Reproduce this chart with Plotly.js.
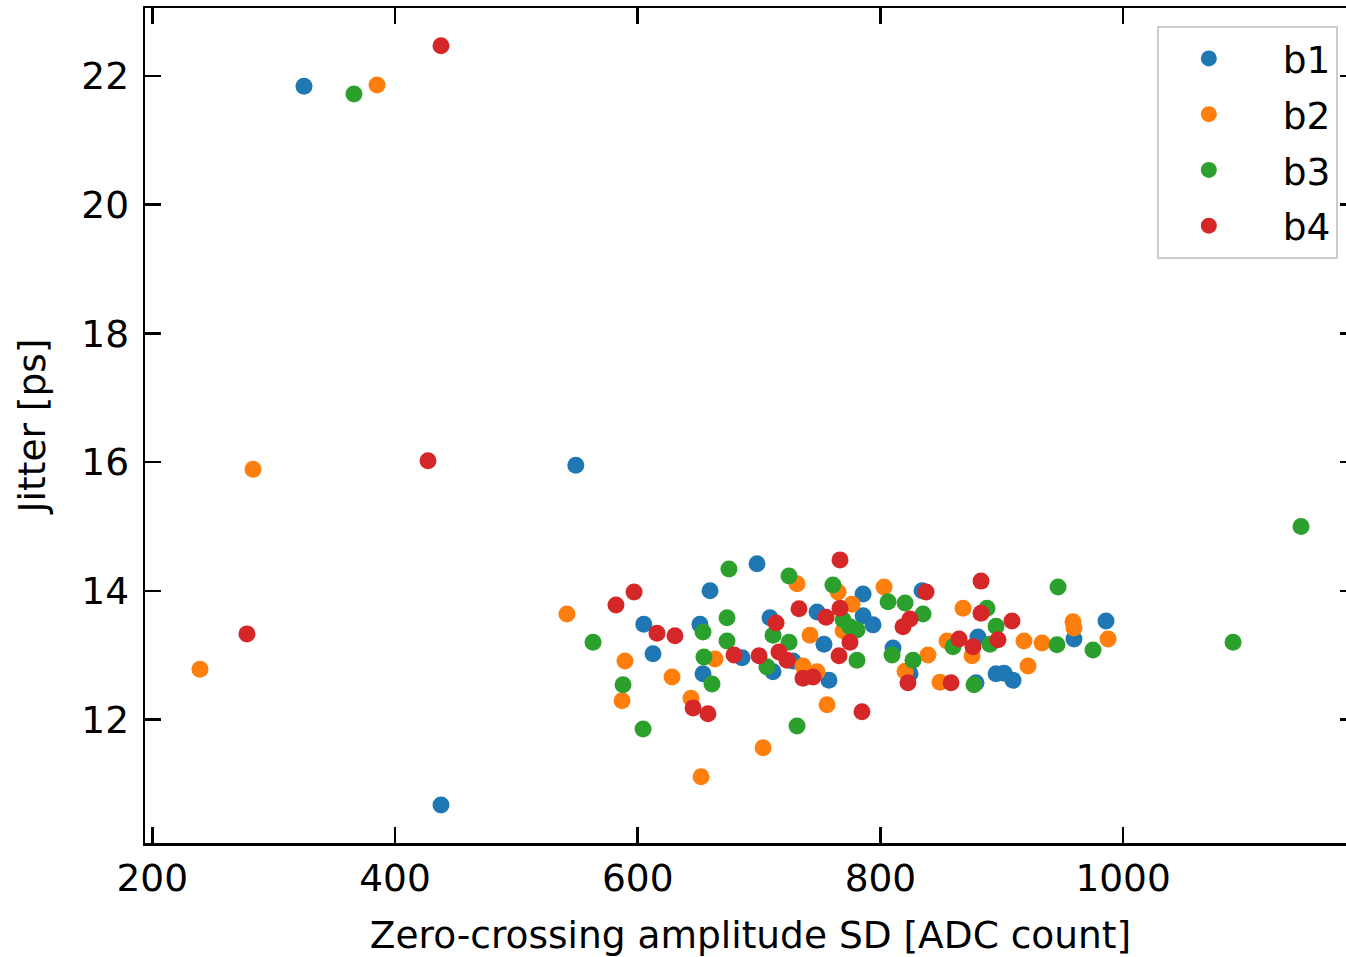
<!DOCTYPE html>
<html>
<head>
<meta charset="utf-8">
<script src="https://cdn.plot.ly/plotly-3.0.1.min.js"></script>
<style>
  html, body { margin: 0; padding: 0; overflow: hidden; background: #fff; }
  #chart { width: 1360px; height: 957px; }
</style>
</head>
<body>
<div id="chart"></div>
<script>
const seriesNames = ["b1", "b2", "b3", "b4"];
const seriesColors = ["#1f77b4", "#ff7f0e", "#2ca02c", "#d62728"];

const b1_x = [325, 549, 437.9, 605, 612.6, 659.6, 651.3, 653.8, 698.3, 686, 709, 711.5, 728, 747.8, 753.5, 757.6, 785.7, 785.7, 793.9, 810.4, 824.4, 834.3, 880.4, 895.3, 901.9, 909.3, 959.5, 985.9, 878.8];
const b1_y = [21.84, 15.95, 10.67, 13.48, 13.02, 14.00, 13.48, 12.71, 14.42, 12.96, 13.58, 12.74, 12.91, 13.67, 13.17, 12.61, 13.95, 13.61, 13.47, 13.11, 12.71, 14.00, 13.28, 12.71, 12.72, 12.61, 13.25, 13.53, 12.57];

const b2_x = [385.2, 283, 239.3, 541.7, 589.5, 587.1, 628.3, 643.9, 652.2, 663.7, 731.3, 703.3, 742, 736.2, 747.8, 756, 765.1, 776.6, 769.2, 803, 820.3, 839.2, 868.1, 854.9, 875.5, 849.1, 918.3, 933.2, 921.6, 958.7, 959.5, 987.6];
const b2_y = [21.86, 15.89, 12.78, 13.64, 12.91, 12.29, 12.66, 12.33, 11.11, 12.94, 14.11, 11.56, 13.31, 12.83, 12.74, 12.23, 13.98, 13.79, 13.38, 14.06, 12.75, 13.00, 13.73, 13.22, 12.99, 12.58, 13.22, 13.19, 12.83, 13.52, 13.42, 13.25];

const b3_x = [366.2, 1146.6, 1090.6, 563.2, 587.9, 604.4, 653.8, 654.6, 661.2, 675.2, 673.6, 673.6, 706.5, 711.5, 724.7, 724.7, 731.3, 760.9, 769.2, 774.9, 780.7, 780.7, 806.3, 809.6, 820.3, 826.9, 835.1, 859.8, 877.1, 887.8, 890.3, 895.3, 946.4, 945.5, 975.2];
const b3_y = [21.72, 15.00, 13.20, 13.20, 12.54, 11.85, 13.36, 12.97, 12.55, 14.34, 13.58, 13.22, 12.82, 13.31, 14.23, 13.20, 11.90, 14.09, 13.55, 13.44, 13.39, 12.92, 13.83, 13.00, 13.81, 12.92, 13.64, 13.13, 12.54, 13.73, 13.17, 13.45, 14.06, 13.16, 13.08];

const b4_x = [437.9, 427.2, 278, 582.1, 597, 615.9, 630.7, 645.6, 657.9, 679.4, 700, 714, 716.4, 723, 732.9, 736.2, 744.5, 755.2, 766.7, 766.7, 774.9, 765.9, 784.8, 818.6, 824.4, 822.7, 837.6, 858.2, 864.8, 876.3, 882.9, 882.9, 896.9, 908.4];
const b4_y = [22.47, 16.02, 13.33, 13.78, 13.98, 13.34, 13.30, 12.18, 12.09, 13.00, 12.99, 13.50, 13.05, 12.92, 13.72, 12.64, 12.66, 13.59, 14.48, 13.73, 13.20, 12.99, 12.12, 13.44, 13.56, 12.57, 13.98, 12.57, 13.25, 13.13, 14.15, 13.65, 13.24, 13.53];

const xTicks = [200, 400, 600, 800, 1000];
const yTicks = [12, 14, 16, 18, 20, 22];
const xTitle = "Zero-crossing amplitude SD [ADC count]";
const yTitle = "Jitter [ps]";

const xs = [b1_x, b2_x, b3_x, b4_x];
const ys = [b1_y, b2_y, b3_y, b4_y];

const FONT = "DejaVu Sans, sans-serif";
const FS = 37.5;

const traces = seriesNames.map((n, i) => ({
  type: "scatter",
  mode: "markers",
  name: "\u00a0\u00a0" + n,
  legendgroup: n,
  x: xs[i],
  y: ys[i],
  marker: { color: seriesColors[i], size: 17, line: { width: 0 } }
}));

const axisCommon = {
  showgrid: false,
  zeroline: false,
  showline: true,
  linecolor: "#000",
  linewidth: 2.5,
  mirror: "allticks",
  ticks: "inside",
  ticklen: 16,
  tickwidth: 2.5,
  tickcolor: "#000",
  tickfont: { family: FONT, size: FS, color: "#000" }
};

const layout = {
  width: 1360,
  height: 957,
  margin: { l: 145, r: 4, t: 8, b: 114 },
  paper_bgcolor: "#fff",
  plot_bgcolor: "#fff",
  font: { family: FONT, color: "#000" },
  xaxis: Object.assign({}, axisCommon, {
    range: [194.0, 1191.9],
    tickvals: xTicks,
    ticktext: xTicks.map(String),
    ticklabelstandoff: 0,
    title: { text: xTitle, font: { family: FONT, size: FS, color: "#000" }, standoff: 30 }
  }),
  yaxis: Object.assign({}, axisCommon, {
    range: [10.08, 23.057],
    tickvals: yTicks,
    ticktext: yTicks.map(String),
    ticklabelstandoff: 6,
    title: { text: yTitle, font: { family: FONT, size: FS, color: "#000" }, standoff: 24 }
  }),
  showlegend: true,
  legend: {
    x: 0.985, y: 0.979, xanchor: "right", yanchor: "top",
    bgcolor: "rgba(255,255,255,0.8)",
    bordercolor: "#cccccc",
    borderwidth: 2,
    font: { family: FONT, size: FS, color: "#000" },
    tracegroupgap: 4,
    itemwidth: 90
  }
};

Plotly.newPlot("chart", traces, layout, { displayModeBar: false, staticPlot: true });
</script>
</body>
</html>
